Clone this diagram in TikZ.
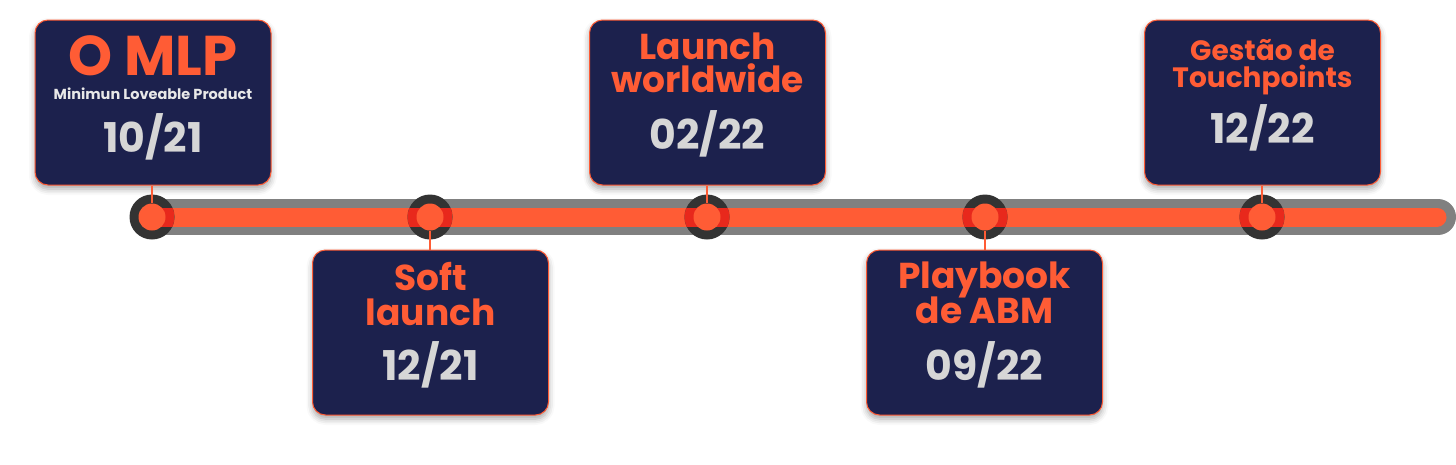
\documentclass[tikz,border=0pt]{standalone}
\usepackage{fontspec}
\setmainfont{Poppins}
\usetikzlibrary{shadows.blur}
\definecolor{navy}{RGB}{28,33,77}
\definecolor{orng}{RGB}{255,92,53}
\definecolor{ringc}{RGB}{51,51,51}
\definecolor{redc}{RGB}{232,40,28}
\definecolor{barg}{RGB}{128,128,128}
\definecolor{dategray}{RGB}{214,214,214}
\definecolor{subw}{RGB}{232,232,232}
\begin{document}
\begin{tikzpicture}[x=1pt,y=-1pt,
  card/.style={draw=orng, line width=1pt, fill=navy, rounded corners=13pt,
    minimum width=236pt, minimum height=165pt, inner sep=0pt,
    blur shadow={shadow xshift=0pt, shadow yshift=-4pt, shadow blur radius=6pt, shadow opacity=35}},
  ring/.style={circle, fill=ringc, minimum size=45pt, inner sep=0pt},
  dot/.style={circle, fill=orng, minimum size=27pt, inner sep=0pt},
  ttl/.style={text=orng, anchor=base, inner sep=0pt, font=\bfseries\fontsize{36}{36}\selectfont},
  ttlsmall/.style={ttl, font=\bfseries\fontsize{28}{28}\selectfont},
  ttlbig/.style={ttl, font=\bfseries\fontsize{56}{56}\selectfont},
  sub/.style={text=subw, anchor=base, inner sep=0pt, font=\bfseries\fontsize{14.5}{14.5}\selectfont},
  date/.style={text=dategray, anchor=base, inner sep=0pt, font=\bfseries\fontsize{41}{41}\selectfont},
  stem/.style={draw=orng, line width=1.5pt},
  band/.style={fill=redc}
]
\useasboundingbox (0,0) rectangle (1456,464);

% timeline bar
\coordinate (c1pos) at (152,217);
\coordinate (barend) at (1438,217);
\coordinate (orend) at (1437,217);
\draw[barg, line width=36pt, line cap=round] (c1pos) -- (barend);
\draw[orng, line width=19pt, line cap=round] (c1pos) -- (orend);

% cards
\node[card] (b1) at (153,102.5) {};
\node[card] (b2) at (430.5,332.5) {};
\node[card] (b3) at (707.5,102.5) {};
\node[card] (b4) at (984.5,332.5) {};
\node[card] (b5) at (1262.5,102.5) {};

% milestone rings
\node[ring] (c1) at (152,217) {};
\node[ring] (c2) at (430,217) {};
\node[ring] (c3) at (707,217) {};
\node[ring] (c4) at (985,217) {};
\node[ring] (c5) at (1262,217) {};
\begin{scope}
  \clip (152,217) circle (22.5);
  \fill[band] (152,207.5) rectangle (175,226.5);
\end{scope}
\foreach \x in {430,707,985,1262}{
  \begin{scope}
    \clip (\x,217) circle (22.5);
    \fill[band] (\x-23,207.5) rectangle (\x+23,226.5);
  \end{scope}
}
\node[dot] (d1) at (c1) {};
\node[dot] (d2) at (c2) {};
\node[dot] (d3) at (c3) {};
\node[dot] (d4) at (c4) {};
\node[dot] (d5) at (c5) {};

% stems
\draw[stem] (c1 |- b1.south) -- (d1.north);
\draw[stem] (c2 |- b2.north) -- (d2.south);
\draw[stem] (c3 |- b3.south) -- (d3.north);
\draw[stem] (c4 |- b4.north) -- (d4.south);
\draw[stem] (c5 |- b5.south) -- (d5.north);

% texts
\node[ttlbig] (t1) at (153,75) {O MLP};
\node[sub] (s1) at (153,99) {Minimun Loveable Product};
\node[date] (y1) at (153,152) {10/21};

\node[ttl] (t2a) at (430.5,290) {Soft};
\node[ttl] (t2b) at (430.5,325) {launch};
\node[date] (y2) at (430.5,380) {12/21};

\node[ttl] (t3a) at (707.5,59) {Launch};
\node[ttl] (t3b) at (707.5,92) {worldwide};
\node[date] (y3) at (707.5,149) {02/22};

\node[ttl] (t4a) at (984.5,288) {Playbook};
\node[ttl] (t4b) at (984.5,323) {de ABM};
\node[date] (y4) at (984.5,380) {09/22};

\node[ttlsmall] (t5a) at (1262.5,60) {Gestão de};
\node[ttlsmall] (t5b) at (1262.5,87) {Touchpoints};
\node[date] (y5) at (1262.5,143) {12/22};
\end{tikzpicture}
\end{document}
